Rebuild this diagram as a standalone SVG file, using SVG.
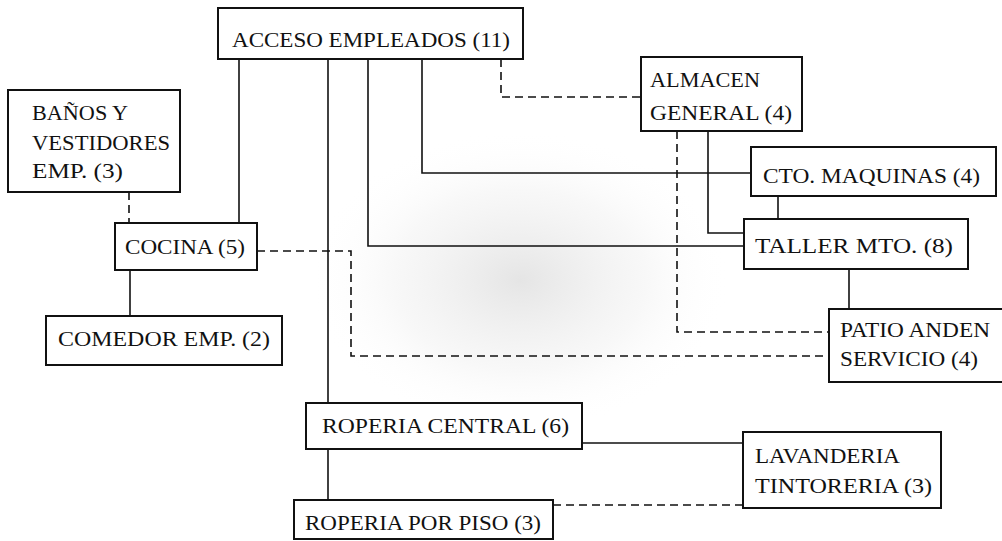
<svg xmlns="http://www.w3.org/2000/svg" width="1002" height="541" viewBox="0 0 1002 541">
<defs>
<radialGradient id="noise" cx="0.5" cy="0.5" r="0.5">
<stop offset="0" stop-color="#a8a8a8" stop-opacity="0.3"/>
<stop offset="0.6" stop-color="#c4c4c4" stop-opacity="0.12"/>
<stop offset="1" stop-color="#ffffff" stop-opacity="0"/>
</radialGradient>
<style>
.box{fill:#fff;stroke:#111;stroke-width:2}
.ln{fill:none;stroke:#111;stroke-width:1.6}
.dash{fill:none;stroke:#111;stroke-width:1.6;stroke-dasharray:8 5}
text{font-family:"Liberation Serif","Times New Roman",serif;font-size:22px;fill:#111}
</style>
</defs>
<rect width="1002" height="541" fill="#fff"/>
<ellipse cx="520" cy="280" rx="210" ry="150" fill="url(#noise)"/>
<g id="connectors">
<path class="ln" d="M239 59V223"/>
<path class="ln" d="M328 59V403"/>
<path class="ln" d="M328 449V500"/>
<path class="ln" d="M368 59V246H744"/>
<path class="ln" d="M422 59V173H751"/>
<path class="dash" d="M501 59V97H641"/>
<path class="dash" d="M129 192V223"/>
<path class="ln" d="M130 270V316"/>
<path class="dash" d="M257 251H351V356H829"/>
<path class="dash" d="M677 131V332H829"/>
<path class="ln" d="M708 131V233H744"/>
<path class="ln" d="M778 196V219"/>
<path class="ln" d="M849 269V309"/>
<path class="ln" d="M582 443H743"/>
<path class="dash" d="M553 505H743"/>
</g>
<g id="acceso"><rect class="box" x="218" y="8" width="305" height="51"/><text x="232" y="47" textLength="278" lengthAdjust="spacingAndGlyphs">ACCESO EMPLEADOS (11)</text></g>
<g id="almacen"><rect class="box" x="641" y="57" width="161" height="74"/><text x="650" y="87" textLength="110" lengthAdjust="spacingAndGlyphs">ALMACEN</text><text x="650" y="120" textLength="142" lengthAdjust="spacingAndGlyphs">GENERAL (4)</text></g>
<g id="banos"><rect class="box" x="8" y="90" width="172" height="102"/><text x="32" y="120" textLength="96" lengthAdjust="spacingAndGlyphs">BAÑOS  Y</text><text x="32" y="150" textLength="138" lengthAdjust="spacingAndGlyphs">VESTIDORES</text><text x="32" y="178" textLength="91" lengthAdjust="spacingAndGlyphs">EMP.  (3)</text></g>
<g id="cto"><rect class="box" x="751" y="147" width="245" height="49"/><text x="763" y="183" textLength="217" lengthAdjust="spacingAndGlyphs">CTO.  MAQUINAS (4)</text></g>
<g id="cocina"><rect class="box" x="115" y="223" width="142" height="47"/><text x="125" y="254" textLength="120" lengthAdjust="spacingAndGlyphs">COCINA (5)</text></g>
<g id="taller"><rect class="box" x="744" y="219" width="224" height="50"/><text x="755" y="253" textLength="198" lengthAdjust="spacingAndGlyphs">TALLER MTO.  (8)</text></g>
<g id="comedor"><rect class="box" x="46" y="316" width="236" height="49"/><text x="58" y="346" textLength="212" lengthAdjust="spacingAndGlyphs">COMEDOR EMP.  (2)</text></g>
<g id="patio"><rect class="box" x="829" y="309" width="185" height="73"/><text x="840" y="337" textLength="150" lengthAdjust="spacingAndGlyphs">PATIO ANDEN</text><text x="840" y="366" textLength="138" lengthAdjust="spacingAndGlyphs">SERVICIO (4)</text></g>
<g id="roperia-central"><rect class="box" x="306" y="403" width="276" height="46"/><text x="322" y="433" textLength="247" lengthAdjust="spacingAndGlyphs">ROPERIA CENTRAL (6)</text></g>
<g id="lavanderia"><rect class="box" x="743" y="432" width="198" height="76"/><text x="755" y="463" textLength="145" lengthAdjust="spacingAndGlyphs">LAVANDERIA</text><text x="755" y="493" textLength="177" lengthAdjust="spacingAndGlyphs">TINTORERIA (3)</text></g>
<g id="roperia-piso"><rect class="box" x="294" y="500" width="259" height="39"/><text x="305" y="530" textLength="236" lengthAdjust="spacingAndGlyphs">ROPERIA POR PISO (3)</text></g>
</svg>
